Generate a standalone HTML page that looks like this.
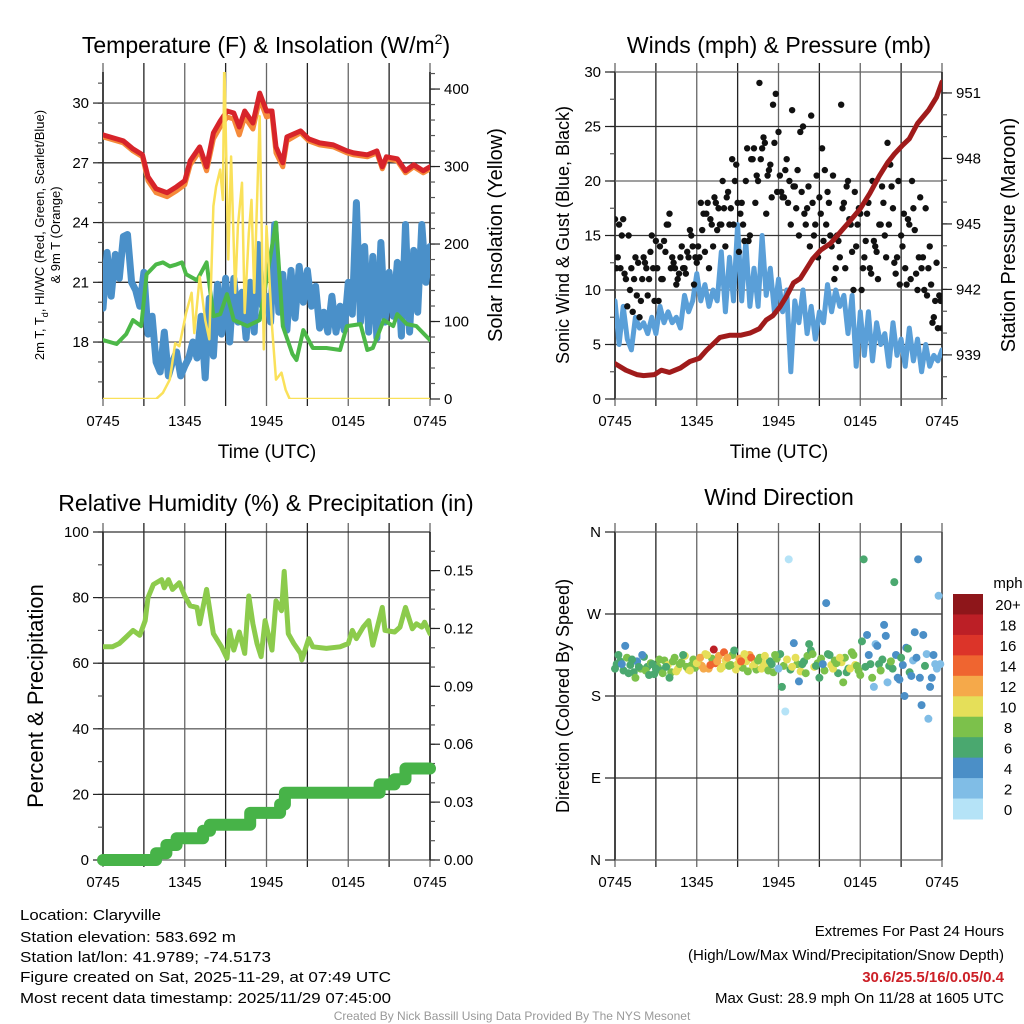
<!DOCTYPE html>
<html><head><meta charset="utf-8"><style>
html,body{margin:0;padding:0;background:#fff;}
svg{display:block;font-family:"Liberation Sans",sans-serif;}
</style></head><body>
<svg id="fig" width="1024" height="1024" viewBox="0 0 1024 1024" xmlns="http://www.w3.org/2000/svg">
<rect x="0" y="0" width="1024" height="1024" fill="#fff"/>
<text x="266" y="53" font-size="23" text-anchor="middle">Temperature (F) &amp; Insolation (W/m<tspan dy="-9" font-size="14">2</tspan><tspan dy="9">)</tspan></text>
<text x="779" y="53" font-size="23" text-anchor="middle">Winds (mph) &amp; Pressure (mb)</text>
<text x="266" y="511" font-size="23" text-anchor="middle">Relative Humidity (%) &amp; Precipitation (in)</text>
<text x="779" y="505" font-size="23" text-anchor="middle">Wind Direction</text>
<text x="267" y="458" font-size="19" text-anchor="middle">Time (UTC)</text>
<text x="779" y="458" font-size="19" text-anchor="middle">Time (UTC)</text>
<text transform="translate(44,235) rotate(-90)" font-size="13" text-anchor="middle">2m T, T<tspan dy="4" font-size="9">d</tspan><tspan dy="-4">, HI/WC (Red, Green, Scarlet/Blue)</tspan></text>
<text transform="translate(60,235) rotate(-90)" font-size="13" text-anchor="middle">&amp; 9m T (Orange)</text>
<text transform="translate(502,235) rotate(-90)" font-size="20" text-anchor="middle">Solar Insolation (Yellow)</text>
<text transform="translate(569,235) rotate(-90)" font-size="18" text-anchor="middle">Sonic Wind &amp; Gust (Blue, Black)</text>
<text transform="translate(1015,235) rotate(-90)" font-size="20" text-anchor="middle">Station Pressure (Maroon)</text>
<text transform="translate(43,696) rotate(-90)" font-size="22" text-anchor="middle">Percent &amp; Precipitation</text>
<text transform="translate(569,696) rotate(-90)" font-size="18" text-anchor="middle">Direction (Colored By Speed)</text>
<g font-size="15">
<text x="20" y="920" textLength="141" lengthAdjust="spacingAndGlyphs">Location: Claryville</text>
<text x="20" y="942" textLength="216" lengthAdjust="spacingAndGlyphs">Station elevation: 583.692 m</text>
<text x="20" y="962" textLength="251" lengthAdjust="spacingAndGlyphs">Station lat/lon: 41.9789; -74.5173</text>
<text x="20" y="982" textLength="371" lengthAdjust="spacingAndGlyphs">Figure created on Sat, 2025-11-29, at 07:49 UTC</text>
<text x="20" y="1003" textLength="371" lengthAdjust="spacingAndGlyphs">Most recent data timestamp: 2025/11/29 07:45:00</text>
</g>
<g font-size="15" text-anchor="end">
<text x="1004" y="936">Extremes For Past 24 Hours</text>
<text x="1004" y="960">(High/Low/Max Wind/Precipitation/Snow Depth)</text>
<text x="1004" y="982" fill="#cc2027" font-weight="bold">30.6/25.5/16/0.05/0.4</text>
<text x="1004" y="1003">Max Gust: 28.9 mph On 11/28 at 1605 UTC</text>
</g>
<text x="512" y="1020" font-size="12" fill="#999" text-anchor="middle">Created By Nick Bassill Using Data Provided By The NYS Mesonet</text>
</svg>
<script>
// ---- Panel 1: temperature ----
const redT=[0,1.5,2.2,2.9,3.3,3.9,4.7,5.4,6.0,6.4,7.1,7.6,8.1,8.6,9.1,9.6,10.0,10.4,11.0,11.5,12.0,12.4,12.7,13.2,13.5,14.5,15.1,15.9,16.9,17.9,18.4,19.4,20.1,20.5,20.8,21.6,22.2,22.8,23.5,24];
const redV=[28.4,28.1,27.7,27.4,26.3,25.7,25.5,25.8,26.1,27.1,27.8,26.8,28.5,29.1,29.6,29.5,28.8,29.6,29.0,30.5,29.6,29.6,27.8,27.0,28.3,28.6,28.2,28.0,27.9,27.6,27.5,27.4,27.6,26.8,27.3,27.2,26.6,26.9,26.6,26.8];
const orangeV=[28.3,28.0,27.6,27.3,26.1,25.5,25.3,25.6,25.9,26.9,27.6,26.6,28.2,28.8,29.3,29.2,28.4,29.3,28.7,30.2,29.3,29.4,27.5,26.8,28.1,28.5,28.1,27.9,27.8,27.5,27.4,27.3,27.5,26.7,27.2,27.1,26.5,26.8,26.5,26.7];
const greenT=[0,1.0,1.7,2.2,2.8,3.2,3.9,4.4,4.9,5.4,5.8,6.1,6.9,7.6,8.1,8.6,9.1,9.6,10.6,11.5,12.7,13.2,13.9,14.2,14.7,15.4,16.4,17.4,17.9,18.9,19.4,19.8,20.6,21.3,21.6,22.3,23.0,24];
const greenV=[18.1,17.9,18.4,19.1,18.8,21.4,21.9,22.0,21.8,21.9,22.0,21.4,21.1,22.0,19.3,19.4,20.4,19.1,18.8,19.1,24.0,18.8,17.4,17.1,18.6,17.7,17.7,17.6,18.8,18.9,17.6,17.7,19.1,18.8,19.4,18.9,18.8,18.1];
const blueWC=[19.7,22.5,20.3,22.4,21.2,23.3,23.4,21.0,20.6,19.8,21.5,
18.4,19.3,17.0,16.5,18.5,16.3,17.0,17.5,16.3,16.8,
17.2,18.0,17.2,19.3,16.2,20.2,17.3,20.9,18.4,21.2,
18.0,21.2,19.0,20.5,18.2,21.0,18.5,22.9,19.8,20.3,
19.0,23.9,19.5,21.4,18.6,21.6,19.2,21.8,20.0,21.6,
19.8,20.8,18.7,19.5,18.5,20.3,18.5,19.8,18.6,21.0,
19.4,25.0,19.0,22.8,18.5,22.3,18.2,23.0,19.0,21.5,
19.3,22.0,18.3,23.9,18.5,22.6,19.5,23.9,21.0,22.8];
const solarT=[0,3.9,4.4,4.9,5.3,5.6,5.9,6.1,6.5,6.7,7.1,7.5,7.8,8.1,8.3,8.6,8.8,8.9,9.2,9.4,9.7,9.9,10.2,10.4,10.7,10.9,11.1,11.5,11.8,12.0,12.4,12.7,13.1,13.4,13.7,24];
const solarV=[0,0,8,25,72,68,94,111,137,85,158,102,77,249,274,296,257,440,180,313,137,223,279,111,214,257,137,365,64,223,94,25,34,12,0,0];
// ---- Panel 2: winds & pressure ----
const presT=[0,0.8,1.6,2.1,2.9,3.4,4.0,4.8,5.5,6.2,6.7,7.2,7.7,8.4,9.2,9.9,10.6,11.1,11.6,12.1,12.6,13.1,13.6,14.0,14.5,15.1,15.8,16.5,17.2,18.0,18.7,19.4,20.0,20.5,21.1,21.6,22.2,23.0,23.6,24];
const presV=[938.6,938.3,938.1,938.05,938.1,938.3,938.2,938.4,938.7,938.85,939.2,939.5,939.8,939.9,939.9,940.0,940.2,940.6,940.8,941.2,941.7,942.3,942.5,942.9,943.4,943.8,944.1,944.6,945.1,945.7,946.4,947.2,947.8,948.2,948.6,948.9,949.6,950.2,950.8,951.5];
const windV=[9,5,8.5,5.5,4.5,7.5,6.5,7,6,7.5,6,
8.5,7,8,7,7.5,6.5,9.5,8,9,11.5,
9,10.5,8.5,10,9,13.5,8,13,9,16,
9,14.5,8.5,12,8.5,15,9.5,12,8,11,
8,10,2.5,9,7,10,6,8.5,5.5,8,
7,10.5,8,10,8.5,9.5,6,9.5,3,8,
4,8,3.5,7,5,6,3,7,4,5.5,
3,6.5,3.5,5.5,2.5,5,3,4,3.5,4.5];
const gustV=[16.5,13,12,16.5,11,15,12,11,9.5,7.5,11,
12.5,9.5,13.5,12,14.5,9,11,14.5,16,17,
13,12,11,13,12,11.5,13,15,10.5,12.5,
13,15.5,13.5,18,16.5,14,18,17.5,16,17.5,
18.5,16,22,20,18,17,16,20,14.5,22,
23,20.5,29,23,23.5,20.5,21.5,27,28,24.5,
19,18.5,22,20,26.5,19.5,21,24.5,25,16,
19.5,26,15,20.5,18.5,23,21,19,15,20.5,
12,14.5,27,18,19.5,16.5,13.5,19,16,17,
12,14.5,18,11.5,14.5,13.5,16,19.5,15,23.5,
21.5,17.5,11.5,20,15,17,10.5,16,20,15.5,
10,18.5,13,17.5,12,10.5,7.5,12.5,9.5,6.5];
const gustV2=[12,16,15,11.5,8.5,10,8,13,12.5,9,
13,12,11,15,9,12,14,11,13.5,16,
12,12.5,10.5,11.5,14,12,13.5,15.5,14,13,
14,18,17,17,12,16,18.5,15.5,16,20,
14,19,17.5,16,21.5,13.5,18,14.5,23,15,
22,18,20,22,24,17,21,18.5,23.5,19,
20.5,18.5,21,18,16,19.5,17.5,15,19,17,
17.5,14,18,16,13,17,14.5,16,18,14,
11,15,13,17.5,12,20,16,10,14,17.5,
10,13,17,12,20,14,11,16,18,13,
16,19.5,12.5,13,10.5,14,12,16.5,11,17.5,
11.5,13,12,10,9.5,14,7,9,6.5,9];
// ---- Panel 3: RH & precip ----
const rhT=[0,0.7,1.2,1.7,2.2,2.7,3.1,3.3,3.7,4.3,4.5,4.8,5.1,5.6,6.0,6.4,6.9,7.1,7.6,8.1,8.7,9.1,9.3,9.6,10.0,10.4,10.7,11.0,11.3,11.6,11.9,12.4,12.7,13.1,13.3,13.6,14.0,14.5,14.6,15.1,15.4,16.4,17.4,18.0,18.3,18.6,19.1,19.5,19.8,20.5,20.7,21.4,21.8,22.2,22.7,23.0,23.4,23.6,24];
const rhV=[65,65,66,68,70,68.5,73,80,84,85.5,83,85.5,82.5,84.5,80.5,77.5,77,72,82.5,69,65,61.5,70,64,69.5,63,80.5,72,66,62,73,64,79,76,88,69,66,63,61,67.5,65,64.5,65,66,70,67.5,71,73,65.5,77,70,69.5,71,77,70.5,72,71,72.5,69];
const precipT=[0,3.7,3.9,4.65,5.4,7.35,7.85,10.8,13.0,13.35,20.3,21.4,22.2,24];
const precipV=[0,0,0.0035,0.0078,0.0113,0.0152,0.0183,0.0244,0.0288,0.0349,0.0392,0.0419,0.0474,0.0474];
// ---- Panel 4: wind direction ----
const dirV=[210,225,215,235,205,220,200,212,225,208,203,215,210,
220,205,212,200,218,207,215,225,212,208,220,
216,222,210,225,214,231,218,210,228,222,214,230,
215,218,226,207,222,215,219,210,224,208,215,225,
210,190,163,330,212,222,196,215,205,237,226,213,
200,215,282,225,210,216,222,195,206,210,225,213,
203,330,247,215,190,235,208,258,195,218,305,200,
222,180,232,202,250,330,170,213,155,200,215,290];
const spdV=[7,6,4,5,7,6,8,6,5,8,7,6,7,
8,8,6,7,9,10,8,6,9,10,9,
10,12,13,11,15,18,13,10,14,12,9,7,
10,14,10,9,15,11,9,10,11,8,7,9,
3,6,1,1,11,10,4,6,8,7,8,6,
7,4,4,7,10,9,11,8,6,10,9,8,
8,6,4,7,2,5,8,4,3,8,6,5,
6,4,7,5,4,4,4,6,2,4,3,2];
const dirV2=[215,218,208,222,214,206,218,210,223,212,216,204,
212,208,219,214,206,222,210,217,224,209,214,211,
218,213,226,210,221,216,224,212,219,213,225,209,
221,211,218,225,213,209,222,216,211,218,206,221,
226,213,220,209,238,215,207,218,224,230,212,216,
221,208,226,214,219,205,217,222,210,228,214,208,
240,212,225,200,237,215,220,246,213,210,225,198,
214,233,206,219,222,200,247,226,190,225,210,215];
const spdV2=[7,6,7,8,6,7,5,8,7,6,8,7,
8,7,9,10,8,9,10,9,11,10,8,9,
11,12,10,13,9,14,12,11,10,8,9,10,
12,9,11,13,10,9,8,11,10,7,9,8,
6,9,10,7,5,8,11,7,9,6,10,8,
8,9,7,10,8,6,11,9,7,8,10,9,
7,6,5,8,3,7,6,4,7,6,5,4,
5,4,6,3,4,5,4,3,4,5,2,3];
const timeLabels=["0745","1345","1945","0145","0745"];
const tempTicks=[18,21,24,27,30];
const solarTicks=[0,100,200,300,400];
const windTicks=[0,5,10,15,20,25,30];
const presTicks=[939,942,945,948,951];
const rhTicks=[0,20,40,60,80,100];
const precipTicks=[0,0.03,0.06,0.09,0.12,0.15];
const dirTicks=[0,90,180,270,360];
const dirLabels=["N","E","S","W","N"];
const speedBins=["0","2","4","6","8","10","12","14","16","18","20+"];
const speedColors=["#b5e3f7","#80bde6","#4b8fc7","#4aa86f","#7cc14b","#e5df59","#f5a94a","#ef6530","#dc3429","#bc1f26","#8e161a"];

const NS="http://www.w3.org/2000/svg";
const svg=document.getElementById('fig');
function mk(tag,attrs,name,parent){
  const e=document.createElementNS(NS,tag);
  for(const k in attrs) e.setAttribute(k,attrs[k]);
  
  
  (parent||svg).appendChild(e);
  return e;
}
function lin(d0,d1,r0,r1){return v=>r0+(v-d0)/(d1-d0)*(r1-r0);}

function panel(id,x0,x1,y0,y1){
  const g=mk('g',{},id+'-panel');
  const cp=mk('clipPath',{id:id+'-clip'},id+'-clip',g);
  mk('rect',{x:x0,y:y0,width:x1-x0,height:y1-y0},id+'-clip-rect',cp);
  const xs=lin(0,24,x0,x1);
  const grid=mk('g',{stroke:'#3a3a3a','stroke-width':1.3},id+'-grid',g);
  for(let h=0;h<=24;h+=3){
    mk('line',{x1:xs(h),x2:xs(h),y1:y0-9,y2:y1+7,stroke:(h%6===3?'#222':'#666')},id+'-vgrid',grid);
  }
  const lab=mk('g',{'font-size':15,'text-anchor':'middle'},id+'-x-labels',g);
  timeLabels.forEach((l,i)=>{const t=mk('text',{x:xs(i*6),y:y1+27},id+'-x-tick-label',lab);t.textContent=l;});
  return {g,xs,clip:'url(#'+id+'-clip)'};
}
function yaxis(p,x0,x1,ys,ticks,labels,minor,side,name,grid){
  const g=mk('g',{stroke:'#222','stroke-width':1.2},name,p.g);
  const x=side==='left'?x0:x1, dir=side==='left'?-1:1;
  mk('line',{x1:x,x2:x,y1:ys.top,y2:ys.bottom,'stroke-width':1.6},name+'-line',g);
  minor.forEach(v=>mk('line',{x1:x,x2:x+dir*5,y1:ys(v),y2:ys(v),stroke:'#555'},name+'-minor-tick',g));
  ticks.forEach((v,i)=>{
    mk('line',{x1:x,x2:x+dir*10,y1:ys(v),y2:ys(v)},name+'-tick',g);
    if(grid) mk('line',{x1:x0,x2:x1,y1:ys(v),y2:ys(v),stroke:(i%2?'#333':'#666'),'stroke-width':1.3},name+'-hgrid',g);
    const t=mk('text',{x:x+dir*14,y:ys(v)+5,'font-size':15,'text-anchor':side==='left'?'end':'start',stroke:'none',fill:'#000'},name+'-tick-label',g);
    t.textContent=labels[i];
  });
}
function poly(p,xsArr,ysArr,yf,attrs,name){
  const pts=xsArr.map((t,i)=>p.xs(t).toFixed(1)+','+yf(ysArr[i]).toFixed(1)).join(' ');
  return mk('polyline',Object.assign({points:pts,fill:'none','stroke-linejoin':'round','stroke-linecap':'round','clip-path':p.clip},attrs),name,p.g);
}
function range(a,b,s){const r=[];for(let v=a;v<=b+1e-9;v+=s)r.push(+v.toFixed(4));return r;}

// Panel 1
{
  const p=panel('temp',103,430,72,399);
  const yT=lin(15.14,31.56,399,72); yT.top=72; yT.bottom=399;
  const yS=lin(0,422,399,72); yS.top=72; yS.bottom=399;
  yaxis(p,103,430,yT,tempTicks,tempTicks.map(String),range(16,31,1),'left','temp-left-axis',true);
  yaxis(p,103,430,yS,solarTicks,solarTicks.map(String),range(20,420,20),'right','solar-right-axis',false);
  const bt=blueWC.map((v,i)=>i*0.3);
  poly(p,bt,blueWC,yT,{stroke:'#4a90c9','stroke-width':7},'windchill-line');
  poly(p,greenT,greenV,yT,{stroke:'#4cb848','stroke-width':4},'dewpoint-line');
  poly(p,redT,orangeV,yT,{stroke:'#f58a3a','stroke-width':5},'temp-9m-line');
  poly(p,redT,redV,yT,{stroke:'#d7242a','stroke-width':5},'temp-2m-line');
  poly(p,solarT,solarV,yS,{stroke:'#fae15a','stroke-width':2.5},'solar-line');
}
// Panel 2
{
  const p=panel('wind',615,942,72,399);
  const yW=lin(0,30,399,72); yW.top=72; yW.bottom=399;
  const yP=lin(936.98,951.96,399,72); yP.top=72; yP.bottom=399;
  yaxis(p,615,942,yW,windTicks,windTicks.map(String),range(0,30,2.5),'left','wind-left-axis',true);
  yaxis(p,615,942,yP,presTicks,presTicks.map(String),range(937,951,1),'right','pressure-right-axis',false);
  poly(p,windV.map((v,i)=>i*0.3),windV,yW,{stroke:'#5a9fd8','stroke-width':5},'wind-speed-line');
  const dots=mk('g',{fill:'#111','clip-path':p.clip},'gust-dots',p.g);
  gustV.forEach((v,i)=>{mk('circle',{cx:p.xs(i*0.2),cy:yW(v),r:3.2},'gust-dot',dots);});
  gustV2.forEach((v,i)=>{mk('circle',{cx:p.xs(i*0.2+0.1),cy:yW(v),r:3.2},'gust-dot',dots);});
  poly(p,presT,presV,yP,{stroke:'#a01b1b','stroke-width':5},'pressure-line');
}
// Panel 3
{
  const p=panel('rh',103,430,532,860);
  const yR=lin(0,100,860,532); yR.top=532; yR.bottom=860;
  const yQ=lin(0,0.17,860,532); yQ.top=532; yQ.bottom=860;
  yaxis(p,103,430,yR,rhTicks,rhTicks.map(String),range(0,100,10),'left','rh-left-axis',true);
  yaxis(p,103,430,yQ,precipTicks,precipTicks.map(v=>v.toFixed(2)),range(0,0.165,0.01),'right','precip-right-axis',false);
  poly(p,rhT,rhV,yR,{stroke:'#8ccb4c','stroke-width':5},'rh-line');
  const sx=[],sy=[];
  precipT.forEach((t,i)=>{if(i>0){sx.push(t);sy.push(precipV[i-1]);}sx.push(t);sy.push(precipV[i]);});
  const pp=poly(p,sx,sy,yQ,{stroke:'#47b348','stroke-width':12},'precip-line');
  pp.removeAttribute('clip-path');
}
// Panel 4
{
  const p=panel('dir',615,942,532,860);
  const yD=lin(0,360,860,532); yD.top=532; yD.bottom=860;
  yaxis(p,615,942,yD,dirTicks,dirLabels,[],'left','direction-left-axis',true);
  mk('line',{x1:942,x2:942,y1:532,y2:860,stroke:'#444','stroke-width':1.5},'direction-right-axis',p.g);
  const dots=mk('g',{},'direction-dots',p.g);
  dirV2.forEach((d,i)=>{
    const bin=Math.min(10,Math.floor(spdV2[i]/2));
    mk('circle',{cx:p.xs(i*0.25+0.125),cy:yD(d),r:4,fill:speedColors[bin]},'direction-dot',dots);
  });
  dirV.forEach((d,i)=>{
    const bin=Math.min(10,Math.floor(spdV[i]/2));
    mk('circle',{cx:p.xs(i*0.25),cy:yD(d),r:4,fill:speedColors[bin]},'direction-dot',dots);
  });
  const lg=mk('g',{},'speed-colorbar',p.g);
  const tl=mk('text',{x:1008,y:588,'font-size':15,'text-anchor':'middle'},'colorbar-title',lg);
  tl.textContent='mph';
  const bh=(819-594)/11;
  speedBins.forEach((b,i)=>{
    const k=10-i;
    mk('rect',{x:953,y:594+i*bh,width:30,height:bh+0.5,fill:speedColors[k]},'colorbar-box',lg);
    const t=mk('text',{x:1008,y:594+i*bh+bh/2+6,'font-size':15,'text-anchor':'middle'},'colorbar-label',lg);
    t.textContent=speedBins[k];
  });
}
</script>
</body></html>
